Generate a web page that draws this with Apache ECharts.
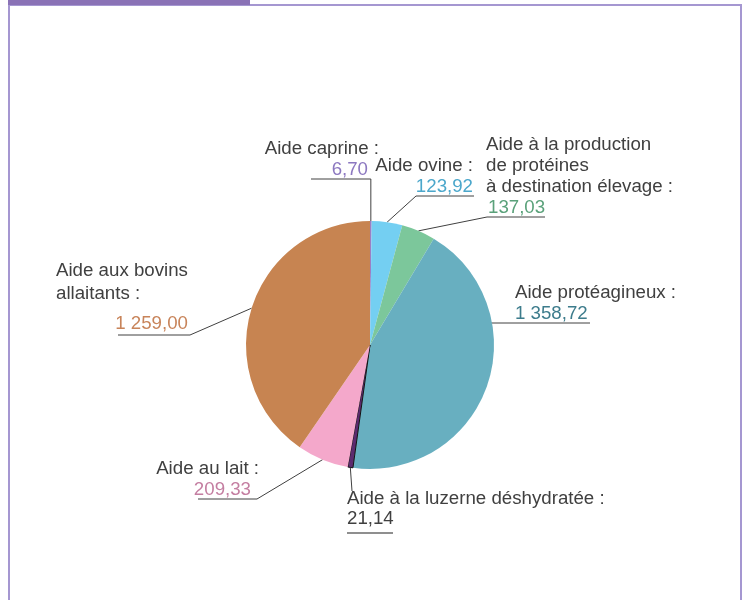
<!DOCTYPE html>
<html>
<head>
<meta charset="utf-8">
<script src="https://cdn.jsdelivr.net/npm/echarts@6/dist/echarts.min.js"></script>
<style>
  html, body { margin: 0; padding: 0; background: #fff; }
  #frame { position: absolute; left: 8px; top: 4px; width: 734px; height: 600px; box-sizing: border-box;
           border: 2px solid #a597d1; border-bottom: none; }
  #tab { position: absolute; left: 8px; top: 0; width: 242px; height: 5px; background: #8a72b6; }
  #root { position: absolute; left: 0; top: 0; width: 744px; height: 600px; }
</style>
</head>
<body>
<div id="frame"></div>
<div id="tab"></div>
<div id="root"></div>
<script>
// data (millions d'euros)
var names = [
  'Aide caprine :',
  'Aide ovine :',
  'Aide à la production\nde protéines\nà destination élevage :',
  'Aide protéagineux :',
  'Aide à la luzerne déshydratée :',
  'Aide au lait :',
  'Aide aux bovins\nallaitants :'
];
var amounts = [6.70, 123.92, 137.03, 1358.72, 21.14, 209.33, 1259.00];
var sliceColors = ['#9a7fc6', '#74cff2', '#7cc79b', '#68afc0', '#5c2a6e', '#f4a8cb', '#c78451'];
var valueColors = ['#8c78c0', '#4ba7cb', '#5aa17a', '#3d7c8c', '#404040', '#c47ea1', '#c8845a'];

// ou placer chaque etiquette (y = trait sous la valeur)
var spots = [
  {x: 379, y: 179, align: 'right', cornerX: null, endX: 311, vPad: [0, 11, 0, 0]},
  {x: 473, y: 196, align: 'right', cornerX: 416, endX: 474},
  {x: 486, y: 217, align: 'left', cornerX: 487, endX: 545, vPad: [0, 0, 0, 2]},
  {x: 515, y: 323, align: 'left', cornerX: 485, endX: 590, flat: true},
  {x: 347, y: 489, align: 'left', top: true, cornerX: 352, cornerY: 491, endX: 352, lh: 19},
  {x: 259, y: 499, align: 'right', cornerX: 257, endX: 198, vPad: [0, 8, 0, 0]},
  {x: 56, y: 333, align: 'left', cornerX: 190, cornerY: 335, endX: 118, vAlign: 'right', lh: 23, gap: 8}
];

var FONT = '"Liberation Sans", Arial, sans-serif';
var FS = 18.7;

// 1259 -> "1 259,00"
function frNum(v) {
  var parts = v.toFixed(2).split('.');
  return parts[0].replace(/\B(?=(\d{3})+(?!\d))/g, ' ') + ',' + parts[1];
}

var pieData = names.map(function (n, i) {
  var s = spots[i];
  var lh = s.lh || 21;
  return {
    name: n,
    value: amounts[i],
    itemStyle: i === 4 ? {color: sliceColors[i], borderColor: '#111', borderWidth: 1} : {color: sliceColors[i]},
    label: {
      rich: {
        t: {fontSize: FS, lineHeight: lh, color: '#404040', fontFamily: FONT, align: s.align},
        v: {fontSize: FS, lineHeight: 21, color: valueColors[i], fontFamily: FONT,
            align: s.vAlign || s.align, padding: s.vPad || 0},
        s: {height: s.gap || 1, lineHeight: s.gap || 1},
        u: {width: 46, height: 2, lineHeight: 8, backgroundColor: '#8f8f8f', align: 'left'}
      }
    }
  };
});

var option = {
  animation: false,
  series: [{
    type: 'pie',
    center: [370, 345],
    radius: 124,
    startAngle: 90,
    data: pieData,
    label: {
      show: true,
      position: 'outside',
      fontFamily: FONT,
      fontSize: FS,
      formatter: function (p) {
        var txt = p.name.split('\n').map(function (l) { return '{t|' + l + '}'; }).join('\n');
        if (spots[p.dataIndex].gap) txt += '\n{s|}';
        txt += '\n{v|' + frNum(p.value) + '}';
        // la luzerne a son propre petit trait gris
        if (p.dataIndex === 4) txt += '\n{u|}';
        return txt;
      }
    },
    labelLine: {
      show: true,
      lineStyle: {color: '#404040', width: 1}
    },
    labelLayout: function (p) {
      var s = spots[p.dataIndex];
      var pts = p.labelLinePoints;
      var cy = s.cornerY != null ? s.cornerY : s.y;
      var anchor = pts ? pts[0] : [s.cornerX, cy];
      var line;
      if (s.flat) {
        line = [[s.cornerX, cy], [s.cornerX, cy], [s.endX, cy]];
      } else {
        var cx = s.cornerX == null ? anchor[0] : s.cornerX;
        line = [anchor, [cx, cy], [s.endX, cy]];
      }
      return {
        x: s.x,
        y: s.top ? s.y : s.y + 1,
        align: s.align,
        verticalAlign: s.top ? 'top' : 'bottom',
        labelLinePoints: line
      };
    },
    emphasis: {disabled: true}
  }]
};

var myChart = echarts.init(document.getElementById('root'));
myChart.setOption(option);
</script>
</body>
</html>
